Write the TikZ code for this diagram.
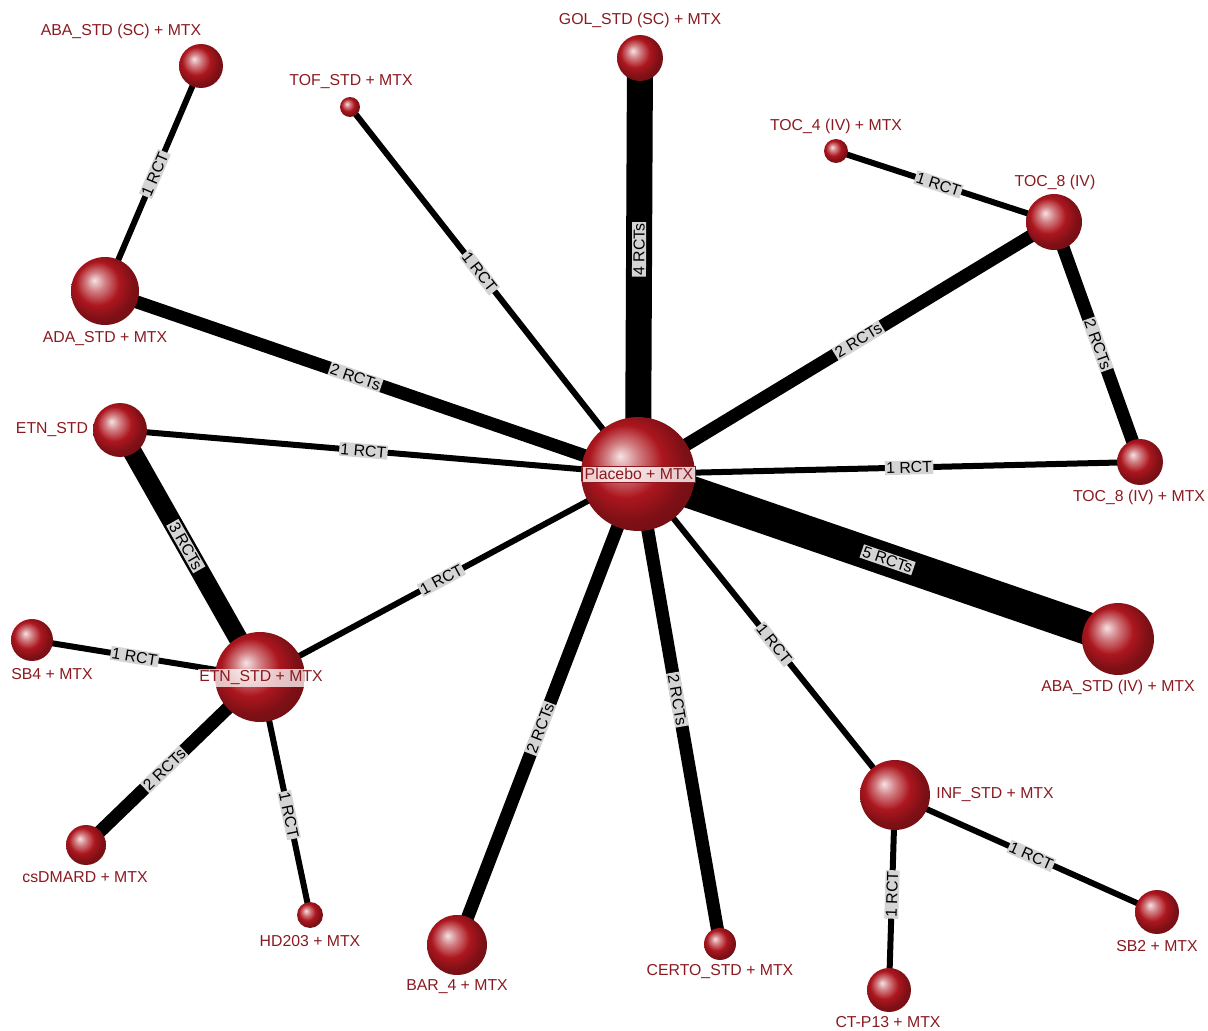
\documentclass[tikz,border=0pt]{standalone}
\usepackage{fontspec}
\setmainfont{Liberation Sans}
\usepackage{tikz}
\usetikzlibrary{backgrounds}
\definecolor{ballred}{HTML}{AC161E}
\definecolor{lblred}{HTML}{8A1A20}
\definecolor{tagfill}{HTML}{D4D4D4}
% red sphere, light spot up left, rim stays red
\pgfdeclareradialshading{redball}{\pgfpoint{-8bp}{8bp}}{%
  color(0bp)=(ballred!12!white); color(7bp)=(ballred!55!white);
  color(16bp)=(ballred); color(25bp)=(ballred!72!black);
  color(50bp)=(ballred!55!black)}
\tikzset{
  ball/.style={circle, inner sep=0pt, shading=redball, minimum size=#1*0.04cm},
  link/.style={draw=black, line width=#1*0.569pt},
  tag/.style={sloped, fill=tagfill, inner sep=0.8pt, text=black, font=\fontsize{9}{10}\selectfont},
  lbl/.style={text=lblred, inner sep=0pt, font=\fontsize{9}{10}\selectfont},
  hub/.style={lbl, fill=white, fill opacity=0.8, text opacity=1, draw=lblred, line width=0.4pt, inner sep=1.2pt}
}

\begin{document}
\begin{tikzpicture}[x=0.02cm, y=-0.02cm]
  \useasboundingbox (0,0) rectangle (1208,1031);

  % treatments
  \node[ball=57] (pla)   at (638,474)  {};
  \node[ball=22] (abasc) at (201,66)   {};
  \node[ball=10] (tof)   at (350,107)  {};
  \node[ball=23] (gol)   at (640,58)   {};
  \node[ball=12] (toc4)  at (836,151)  {};
  \node[ball=28] (toc8)  at (1054,222) {};
  \node[ball=34] (ada)   at (105,291)  {};
  \node[ball=27] (etn)   at (120,430)  {};
  \node[ball=23] (toc8m) at (1140,462) {};
  \node[ball=36] (abaiv) at (1118,639) {};
  \node[ball=21] (sb4)   at (32,640)   {};
  \node[ball=45] (etnm)  at (260,677)  {};
  \node[ball=20] (csd)   at (86,845)   {};
  \node[ball=13] (hd)    at (310,915)  {};
  \node[ball=30] (bar)   at (457,945)  {};
  \node[ball=16] (certo) at (720,944)  {};
  \node[ball=35] (inf)   at (895,795)  {};
  \node[ball=22] (sb2)   at (1157,912) {};
  \node[ball=22] (ctp)   at (889,990)  {};

  % comparisons, width by number of trials
  \begin{pgfonlayer}{background}
    \draw[link=26] (pla.center) -- node[tag, pos=0.54]{4 RCTs} (gol.center);
    \draw[link=6]  (tof.center) -- node[tag, pos=0.45]{1 RCT} (pla.center);
    \draw[link=13] (ada.center) -- node[tag, pos=0.47]{2 RCTs} (pla.center);
    \draw[link=6]  (abasc.center) -- node[tag, pos=0.48]{1 RCT} (ada.center);
    \draw[link=13] (pla.center) -- node[tag, pos=0.53]{2 RCTs} (toc8.center);
    \draw[link=6]  (toc4.center) -- node[tag, pos=0.47]{1 RCT} (toc8.center);
    \draw[link=13] (toc8.center) -- node[tag, pos=0.51]{2 RCTs} (toc8m.center);
    \draw[link=6]  (etn.center) -- node[tag, pos=0.47]{1 RCT} (pla.center);
    \draw[link=6]  (pla.center) -- node[tag, pos=0.54]{1 RCT} (toc8m.center);
    \draw[link=33] (pla.center) -- node[tag, pos=0.52]{5 RCTs} (abaiv.center);
    \draw[link=6]  (etnm.center) -- node[tag, pos=0.48]{1 RCT} (pla.center);
    \draw[link=19] (etn.center) -- node[tag, pos=0.47]{3 RCTs} (etnm.center);
    \draw[link=6]  (sb4.center) -- node[tag, pos=0.45]{1 RCT} (etnm.center);
    \draw[link=13] (etnm.center) -- node[tag, pos=0.55]{2 RCTs} (csd.center);
    \draw[link=6]  (etnm.center) -- node[tag, pos=0.58]{1 RCT} (hd.center);
    \draw[link=13] (pla.center) -- node[tag, pos=0.54]{2 RCTs} (bar.center);
    \draw[link=13] (pla.center) -- node[tag, pos=0.48]{2 RCTs} (certo.center);
    \draw[link=6]  (pla.center) -- node[tag, pos=0.53]{1 RCT} (inf.center);
    \draw[link=6]  (inf.center) -- node[tag, pos=0.52]{1 RCT} (sb2.center);
    \draw[link=6]  (inf.center) -- node[tag, pos=0.51]{1 RCT} (ctp.center);
  \end{pgfonlayer}

  % names
  \node[hub] (plat) at (639,474) {Placebo + MTX};
  \node[lbl] (abasct) at (121,31)  {ABA\_STD (SC) + MTX};
  \node[lbl] (toft)   at (351,82)  {TOF\_STD + MTX};
  \node[lbl] (golt)   at (640,20)  {GOL\_STD (SC) + MTX};
  \node[lbl] (toc4t)  at (836,126) {TOC\_4 (IV) + MTX};
  \node[lbl] (toc8t)  at (1055,182) {TOC\_8 (IV)};
  \node[lbl] (adat)   at (105,339) {ADA\_STD + MTX};
  \node[lbl] (etnt)   at (52,430)  {ETN\_STD};
  \node[lbl] (toc8mt) at (1139,497) {TOC\_8 (IV) + MTX};
  \node[lbl] (abaivt) at (1118,687) {ABA\_STD (IV) + MTX};
  \node[lbl] (sb4t)   at (52,674)  {SB4 + MTX};
  \node[lbl, fill=white, fill opacity=0.75, text opacity=1, inner sep=1pt] (etnmt) at (261,678) {ETN\_STD + MTX};
  \node[lbl] (csdt)   at (85,877)  {csDMARD + MTX};
  \node[lbl] (hdt)    at (310,941) {HD203 + MTX};
  \node[lbl] (bart)   at (457,987) {BAR\_4 + MTX};
  \node[lbl] (certot) at (720,972) {CERTO\_STD + MTX};
  \node[lbl] (inft)   at (995,795) {INF\_STD + MTX};
  \node[lbl] (sb2t)   at (1157,946) {SB2 + MTX};
  \node[lbl] (ctpt)   at (888,1022) {CT-P13 + MTX};
\end{tikzpicture}
\end{document}
